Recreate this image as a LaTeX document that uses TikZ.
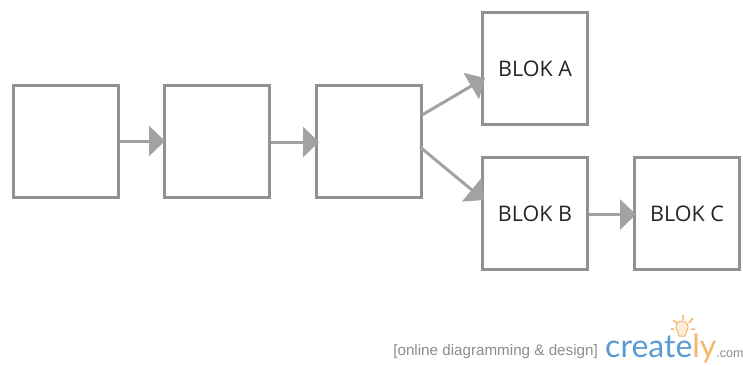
\documentclass[tikz,border=0pt]{standalone}
\usepackage{fontspec}
\setmainfont{Open Sans}
\newfontfamily\logofont{Lato}
\newfontfamily\tagfont{Liberation Sans}
\usetikzlibrary{arrows.meta}
\definecolor{boxgray}{HTML}{929292}
\definecolor{arrowgray}{HTML}{A2A2A2}
\definecolor{logoblue}{HTML}{5B9BD5}
\definecolor{logoorange}{HTML}{F5B56B}
\tikzset{
	blok/.style={draw=boxgray,line width=3pt,minimum width=105pt,minimum height=112pt,inner sep=0pt,text=black!85,font=\fontsize{21.5}{24}\selectfont},
	flow/.style={draw=arrowgray,line width=3pt,-{Triangle[length=16pt,width=30pt]}}
}
\begin{document}
\begin{tikzpicture}[x=1pt,y=-1pt]
	\useasboundingbox (0,0) rectangle (743,365);
	\node[blok] (box1) at (66,141) {};
	\node[blok] (box2) at (217,141) {};
	\node[blok] (box3) at (369,141) {};
	\node[blok] (bloka) at (535,68.5) {BLOK A};
	\node[blok] (blokb) at (535,213.5) {BLOK B};
	\node[blok] (blokc) at (687,213.5) {BLOK C};
	\coordinate (out1) at (422,115);
	\coordinate (out2) at (420,147);
	\coordinate (ina) at (485,78);
	\coordinate (inb) at (484,200);
	\draw[flow] (box1.east) -- ([xshift=2pt]box2.west);
	\draw[flow] ([yshift=-1pt]box2.east) -- ([xshift=4pt,yshift=-1pt]box3.west);
	\draw[flow] (out1) -- (ina);
	\draw[flow] (out2) -- (inb);
	\draw[flow] ([yshift=-1pt]blokb.east) -- ([xshift=3pt,yshift=-1pt]blokc.west);
	\node[anchor=base east,inner sep=0pt,text=black!45,font=\tagfont\fontsize{15.2}{17}\selectfont] (tagline) at (598,355) {[online diagramming \& design]};
	\node[anchor=base west,inner sep=0pt,text=logoblue,font=\logofont\fontsize{32}{36}\selectfont] (logo) at (605,357) {create\textcolor{logoorange}{ly}\textcolor{black!45}{\tagfont\fontsize{12.5}{14}\selectfont.com}};
	% bulb
	\draw[logoorange,line width=1pt,fill=logoorange!25] (679,336) .. controls (678,331) and (676,330) .. (676,327) arc (180:0:6pt) .. controls (688,330) and (686,331) .. (685,336) -- cycle;
	\draw[logoorange,line width=1.5pt] (683,315)--(683,320) (673,320)--(677,323) (693,318)--(689,323) (671,329)--(674,329) (695,329)--(691,329);
\end{tikzpicture}
\end{document}
